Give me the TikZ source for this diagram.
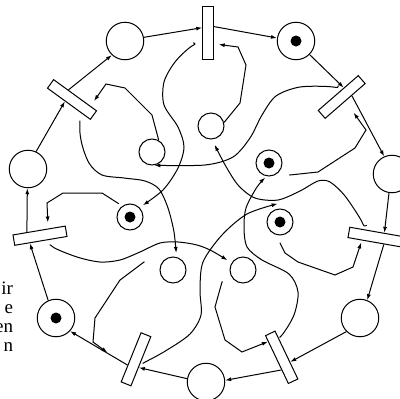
\documentclass[tikz,border=0pt]{standalone}
\usepackage{fontspec}
\setmainfont{Liberation Serif}
\usetikzlibrary{arrows.meta}

\begin{document}
\begin{tikzpicture}[>={Latex[length=6pt,width=4pt]}, x=1pt, y=-1pt, line width=1pt,
  place/.style={draw, circle, minimum size=37.5pt, inner sep=0pt},
  cond/.style={draw, circle, minimum size=26pt, inner sep=0pt},
  marked/.style={path picture={\fill (path picture bounding box.center) circle (5.5pt);}},
  htrans/.style={draw, rectangle, minimum width=53pt, minimum height=10.5pt, inner sep=0pt},
  vtrans/.style={draw, rectangle, minimum width=10.5pt, minimum height=53pt, inner sep=0pt},
  arc/.style={->},
  link/.style={->},
  txt/.style={anchor=base east, inner sep=0pt, font=\fontsize{19}{22}\selectfont}]
\useasboundingbox (0,0) rectangle (400,399);
\clip (0,0) rectangle (400,399);

\node[place] (o1) at (125,41) {};
\node[place, marked] (o2) at (296,41) {};
\node[place] (o3) at (392,174) {};
\node[place] (o4) at (360,318) {};
\node[place] (o5) at (206,382) {};
\node[place, marked] (o6) at (56,318) {};
\node[place] (o7) at (28,169) {};

\node[vtrans] (t1) at (208,32.5) {};
\node[htrans, rotate=41] (t2) at (341.7,97) {};
\node[htrans, rotate=-10] (t3) at (375,237) {};
\node[vtrans, rotate=25.5] (t4) at (281.7,357.3) {};
\node[vtrans, rotate=-22] (t5) at (136,359.3) {};
\node[htrans, rotate=9.6] (t6) at (40,235.7) {};
\node[htrans, rotate=-36] (t7) at (72,99.5) {};

\node[cond] (pa) at (211,126) {};
\node[cond] (pb) at (152,152) {};
\node[cond, marked] (pc) at (269,163) {};
\node[cond, marked] (pd) at (130,217) {};
\node[cond, marked] (pe) at (280,222) {};
\node[cond] (pf) at (173,270) {};
\node[cond] (pg) at (243,270) {};

\node[txt] (w1) at (13.5,294) {ir};
\node[txt] (w2) at (13.5,313) {e};
\node[txt] (w3) at (13.5,332) {en};
\node[txt] (w4) at (13.5,351) {n};

\draw[arc] (o1.11) -- (t1.140);
\draw[arc] (t1.46) -- (o2.171);
\draw[arc] (o2.-45) -- (t2.37);
\draw[arc] (t2.-34) -- (o3.114);
\draw[arc] (o3.-99) -- (t3.34);
\draw[arc] (t3.-30) -- (o4.68);
\draw[arc] (o4.225) -- (t4.-54);
\draw[arc] (t4.243) -- (o5.5);
\draw[arc] (o5.170) -- (t5.-49);
\draw[arc] (t5.236) -- (o6.-43);
\draw[arc] (o6.114) -- (t6.207);
\draw[arc] (t6.155) -- (o7.-92);
\draw[arc] (o7.65) -- (t7.231);
\draw[arc] (t7.146) -- (o1.227);

\draw[arc, shorten >=6pt] (pb.60) -- (152,115) -- (125,88) -- (106,84) -- (t7.17);
\draw[arc, shorten >=5pt] (pa.15) -- (240,103) -- (246,65) -- (238,47) -- (t1.-63);
\draw[arc, shorten <=10pt, shorten >=14pt] (pc.-30) -- (290,175) -- (318,172) -- (355,148) -- (366,130) -- (t2.south);
\draw[arc, shorten <=7pt, shorten >=2pt] (pe.-90) -- (280,243) -- (285,253) -- (298,262) -- (335,275) -- (353,267) -- (t3.205);
\draw[arc, shorten <=10pt] (pg.210) -- (222,282) -- (215,307) -- (225,340) -- (242,352) -- (t4.106);
\draw[arc, shorten <=16pt, shorten >=24pt] (pf.165) -- (144,262) -- (120,280) -- (95,318) -- (93,342) -- (t5.241);
\draw[arc, shorten <=4pt, shorten >=6pt] (pd.125) -- (102,193) -- (63,193) -- (47,203) -- (t6.32);

\draw[link, shorten <=8pt, shorten >=4pt] plot[smooth] coordinates {(t7.-22) (81,140) (89,163) (102,175) (124,178) (145,181) (159,189) (168,208) (174,232) (pf.75)};
\draw[link, shorten <=10pt, shorten >=4pt] plot[smooth] coordinates {(t1.248) (192,46) (175,62) (164,82) (164,105) (178,127) (184,147) (178,168) (163,190) (pd.45)};
\draw[link, shorten <=7pt] plot[smooth] coordinates {(t2.north) (333,87) (300,87) (276,96) (262,115) (250,138) (233,157) (205,165) (pb.-80)};
\draw[link, shorten <=8pt, shorten >=6pt] plot[smooth] coordinates {(t3.161) (362,222) (345,196) (330,182) (318,181) (300,191) (278,200) (255,198) (238,185) (224,163) (pa.-85)};
\draw[link, shorten <=4pt, shorten >=2pt] plot[smooth] coordinates {(t4.76) (282,335) (294,315) (298,292) (289,274) (262,260) (247,247) (244,228) (246,208) (257,187) (pc.-100)};
\draw[link, shorten <=3pt] plot[smooth] coordinates {(t5.-32) (167,350) (190,334) (201,315) (200,290) (203,262) (222,235) (247,214) ([yshift=5pt]pe.100)};
\draw[link, shorten <=7pt, shorten >=5pt] plot[smooth] coordinates {(t6.-24) (53,247) (77,257) (100,262) (120,260) (140,252) (160,243) (178,242) (197,245) (212,251) (pg.148)};
\end{tikzpicture}
\end{document}
